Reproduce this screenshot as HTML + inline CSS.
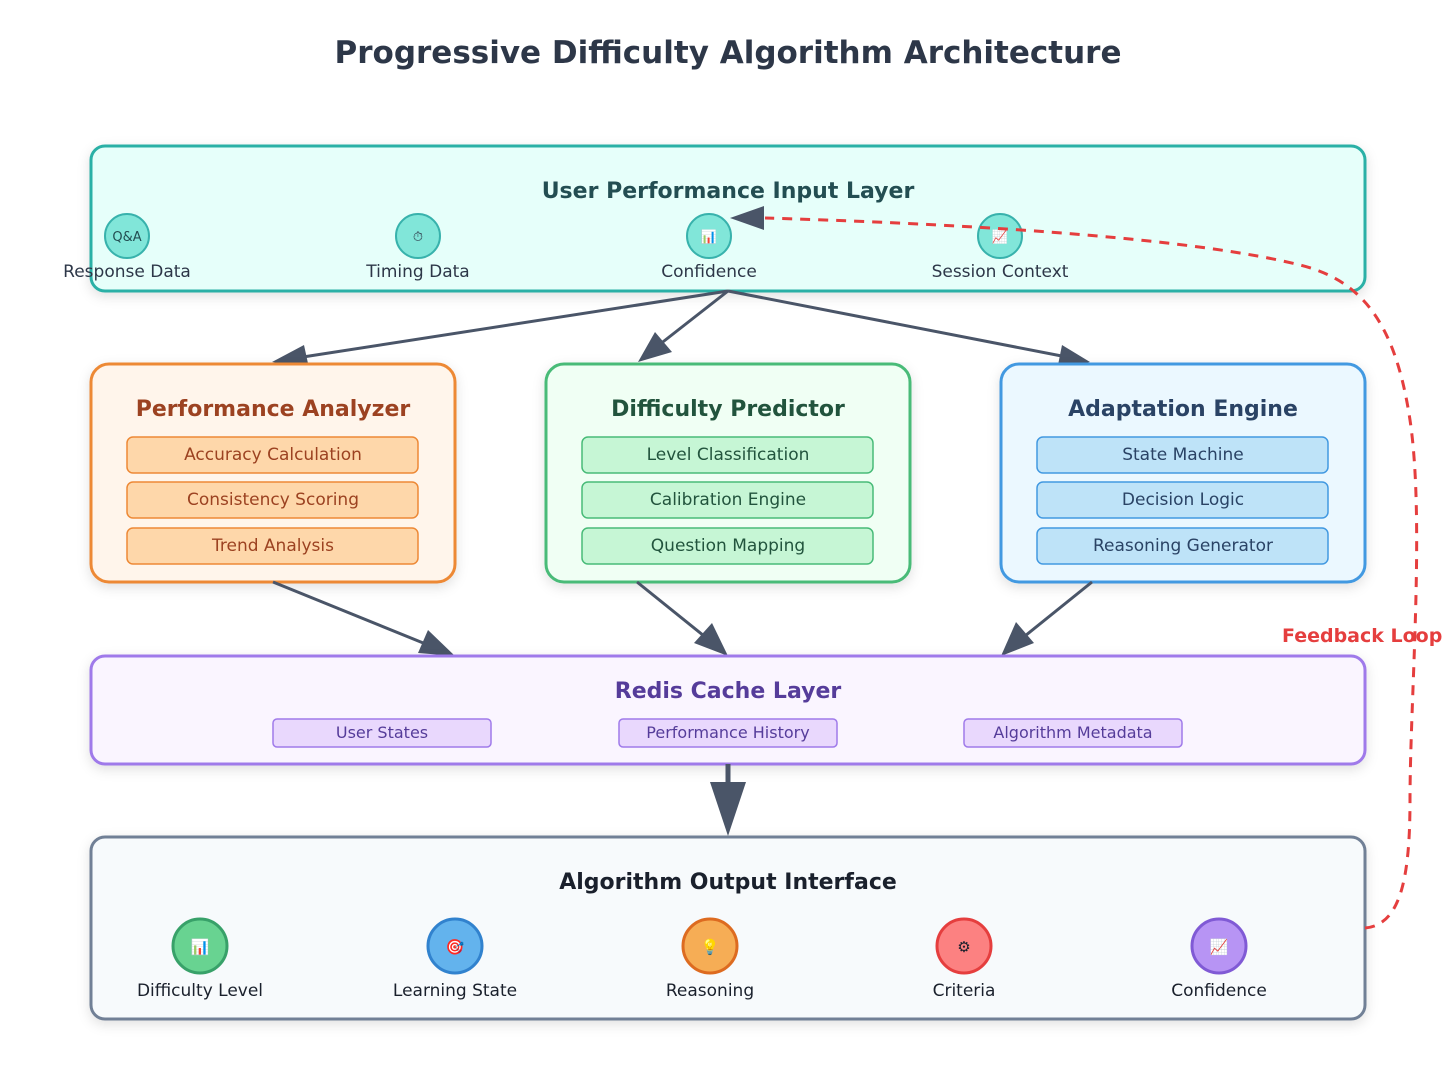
<!DOCTYPE html>
<html><head><meta charset="utf-8"><style>
html,body{margin:0;padding:0;background:#fff}
svg{display:block}
text{font-family:"DejaVu Sans","Liberation Sans",sans-serif}
</style></head><body>
<svg width="1456" height="1092" viewBox="0 0 1456 1092" xmlns="http://www.w3.org/2000/svg">
<defs>
<filter id="sh" x="-10%" y="-10%" width="120%" height="130%"><feDropShadow dx="0" dy="4" stdDeviation="6" flood-color="#000" flood-opacity="0.12"/></filter>
</defs>
<text x="728" y="63" text-anchor="middle" font-size="31" font-weight="bold" fill="#2d3748">Progressive Difficulty Algorithm Architecture</text>

<rect x="91" y="146" width="1274" height="145" rx="14" fill="#e6fffa" stroke="#2bb0a6" stroke-width="3" filter="url(#sh)"/>
<text x="728" y="198" text-anchor="middle" font-size="22" font-weight="bold" fill="#234e52">User Performance Input Layer</text>
<g font-size="17" fill="#2d3748" text-anchor="middle">
<circle cx="127" cy="236" r="22" fill="#81e6d9" stroke="#38b2ac" stroke-width="2"/><text x="127" y="241" font-size="13" fill="#234e52">Q&amp;A</text><text x="127" y="277">Response Data</text>
<circle cx="418" cy="236" r="22" fill="#81e6d9" stroke="#38b2ac" stroke-width="2"/><text x="418" y="241" font-size="13">⏱</text><text x="418" y="277">Timing Data</text>
<circle cx="709" cy="236" r="22" fill="#81e6d9" stroke="#38b2ac" stroke-width="2"/><text x="709" y="241" font-size="13">📊</text><text x="709" y="277">Confidence</text>
<circle cx="1000" cy="236" r="22" fill="#81e6d9" stroke="#38b2ac" stroke-width="2"/><text x="1000" y="241" font-size="13">📈</text><text x="1000" y="277">Session Context</text>
</g>

<g stroke="#4a5568" stroke-width="3" fill="none">
<line x1="728" y1="291" x2="290" y2="359"/><path d="M272,362 L304,345 L309,368 z" fill="#4a5568" stroke="none"/>
<line x1="728" y1="291" x2="650" y2="352"/><path d="M638,362 L655,332 L672,352 z" fill="#4a5568" stroke="none"/>
<line x1="728" y1="291" x2="1072" y2="358"/><path d="M1090,362 L1057,370 L1062,345 z" fill="#4a5568" stroke="none"/>
</g>

<rect x="91" y="364" width="364" height="218" rx="18" fill="#fff5eb" stroke="#ed8936" stroke-width="3" filter="url(#sh)"/>
<text x="273" y="416" text-anchor="middle" font-size="22" font-weight="bold" fill="#9c4221">Performance Analyzer</text>
<g fill="#fed7aa" stroke="#ed8936" stroke-width="1.5">
<rect x="127" y="437" width="291" height="36" rx="6"/><rect x="127" y="482" width="291" height="36" rx="6"/><rect x="127" y="528" width="291" height="36" rx="6"/></g>
<g font-size="17" fill="#9c4221" text-anchor="middle"><text x="273" y="460">Accuracy Calculation</text><text x="273" y="505">Consistency Scoring</text><text x="273" y="551">Trend Analysis</text></g>

<rect x="546" y="364" width="364" height="218" rx="18" fill="#f0fff4" stroke="#48bb78" stroke-width="3" filter="url(#sh)"/>
<text x="728" y="416" text-anchor="middle" font-size="22" font-weight="bold" fill="#22543d">Difficulty Predictor</text>
<g fill="#c6f6d5" stroke="#48bb78" stroke-width="1.5">
<rect x="582" y="437" width="291" height="36" rx="6"/><rect x="582" y="482" width="291" height="36" rx="6"/><rect x="582" y="528" width="291" height="36" rx="6"/></g>
<g font-size="17" fill="#22543d" text-anchor="middle"><text x="728" y="460">Level Classification</text><text x="728" y="505">Calibration Engine</text><text x="728" y="551">Question Mapping</text></g>

<rect x="1001" y="364" width="364" height="218" rx="18" fill="#ebf8ff" stroke="#4299e1" stroke-width="3" filter="url(#sh)"/>
<text x="1183" y="416" text-anchor="middle" font-size="22" font-weight="bold" fill="#2a4365">Adaptation Engine</text>
<g fill="#bee3f8" stroke="#4299e1" stroke-width="1.5">
<rect x="1037" y="437" width="291" height="36" rx="6"/><rect x="1037" y="482" width="291" height="36" rx="6"/><rect x="1037" y="528" width="291" height="36" rx="6"/></g>
<g font-size="17" fill="#2a4365" text-anchor="middle"><text x="1183" y="460">State Machine</text><text x="1183" y="505">Decision Logic</text><text x="1183" y="551">Reasoning Generator</text></g>

<g stroke="#4a5568" stroke-width="3" fill="none">
<line x1="273" y1="582" x2="438" y2="649"/><path d="M455,656 L418,653 L428,630 z" fill="#4a5568" stroke="none"/>
<line x1="637" y1="582" x2="714" y2="644"/><path d="M728,656 L694,643 L712,623 z" fill="#4a5568" stroke="none"/>
<line x1="1092" y1="582" x2="1015" y2="644"/><path d="M1001,656 L1016,622 L1034,643 z" fill="#4a5568" stroke="none"/>
</g>

<rect x="91" y="656" width="1274" height="108" rx="14" fill="#faf5ff" stroke="#9f7aea" stroke-width="3" filter="url(#sh)"/>
<text x="728" y="698" text-anchor="middle" font-size="22" font-weight="bold" fill="#553c9a">Redis Cache Layer</text>
<g fill="#e9d8fd" stroke="#9f7aea" stroke-width="1.5">
<rect x="273" y="719" width="218" height="28" rx="4"/><rect x="619" y="719" width="218" height="28" rx="4"/><rect x="964" y="719" width="218" height="28" rx="4"/></g>
<g font-size="16" fill="#553c9a" text-anchor="middle"><text x="382" y="738">User States</text><text x="728" y="738">Performance History</text><text x="1073" y="738">Algorithm Metadata</text></g>

<line x1="728" y1="764" x2="728" y2="790" stroke="#4a5568" stroke-width="5"/>
<path d="M710,782 L746,782 L728,836 z" fill="#4a5568"/>

<rect x="91" y="837" width="1274" height="182" rx="14" fill="#f7fafc" stroke="#718096" stroke-width="3" filter="url(#sh)"/>
<text x="728" y="889" text-anchor="middle" font-size="22" font-weight="bold" fill="#1a202c">Algorithm Output Interface</text>
<g font-size="17" fill="#1a202c" text-anchor="middle">
<circle cx="200" cy="946" r="27" fill="#68d391" stroke="#38a169" stroke-width="3"/><text x="200" y="952" font-size="15">📊</text><text x="200" y="996">Difficulty Level</text>
<circle cx="455" cy="946" r="27" fill="#63b3ed" stroke="#3182ce" stroke-width="3"/><text x="455" y="952" font-size="15">🎯</text><text x="455" y="996">Learning State</text>
<circle cx="710" cy="946" r="27" fill="#f6ad55" stroke="#dd6b20" stroke-width="3"/><text x="710" y="952" font-size="15">💡</text><text x="710" y="996">Reasoning</text>
<circle cx="964" cy="946" r="27" fill="#fc8181" stroke="#e53e3e" stroke-width="3"/><text x="964" y="952" font-size="15">⚙</text><text x="964" y="996">Criteria</text>
<circle cx="1219" cy="946" r="27" fill="#b794f4" stroke="#805ad5" stroke-width="3"/><text x="1219" y="952" font-size="15">📈</text><text x="1219" y="996">Confidence</text>
</g>

<path d="M1365,928 C1400,925 1410,880 1410,800 C1410,700 1425,520 1410,420 C1395,320 1360,280 1300,265 C1200,240 1000,225 765,218" fill="none" stroke="#e53e3e" stroke-width="3" stroke-dasharray="10,8"/>
<path d="M730,218 L764,206 L764,230 z" fill="#4a5568"/>
<text x="1282" y="642" font-size="19" font-weight="bold" fill="#e53e3e">Feedback Loop</text>
</svg>
</body></html>
